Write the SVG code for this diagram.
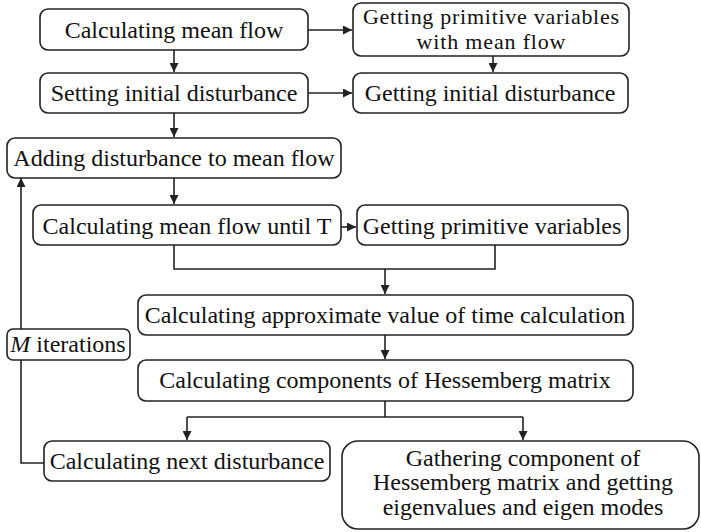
<svg xmlns="http://www.w3.org/2000/svg" width="701" height="532" viewBox="0 0 701 532">
<defs>
<marker id="ah" viewBox="0 0 10 10" refX="10" refY="5" markerWidth="9" markerHeight="9" markerUnits="userSpaceOnUse" orient="auto">
<path d="M0,0 L10,5 L0,10 Z" fill="#222"/>
</marker>
</defs>
<style>
.box{fill:#fff;stroke:#222;stroke-width:1.6}
.c{fill:none;stroke:#222;stroke-width:1.6}
.t{font-family:"Liberation Serif","Times New Roman",serif;font-size:24px;fill:#111;text-anchor:middle}
</style>
<rect width="701" height="532" fill="#fff"/>
<g id="connectors">
<path class="c" d="M308,30 H352" marker-end="url(#ah)"/>
<path class="c" d="M308,93 H352" marker-end="url(#ah)"/>
<path class="c" d="M174,50 V72" marker-end="url(#ah)"/>
<path class="c" d="M493,56 V72" marker-end="url(#ah)"/>
<path class="c" d="M174,113 V137" marker-end="url(#ah)"/>
<path class="c" d="M174,178 V204" marker-end="url(#ah)"/>
<path class="c" d="M341,227 H356" marker-end="url(#ah)"/>
<path class="c" d="M174,245 V269 H495 V245"/>
<path class="c" d="M385,269 V294" marker-end="url(#ah)"/>
<path class="c" d="M385,335 V359" marker-end="url(#ah)"/>
<path class="c" d="M385,401 V417"/>
<path class="c" d="M187,417 H523"/>
<path class="c" d="M187,417 V440" marker-end="url(#ah)"/>
<path class="c" d="M523,417 V440" marker-end="url(#ah)"/>
<path class="c" d="M44,463 H21 V178" marker-end="url(#ah)"/>
</g>
<g id="n1"><rect class="box" x="40" y="9" width="268" height="41" rx="8"/><text class="t" x="174" y="38" font-family="Liberation Serif">Calculating mean flow</text></g>
<g id="n2"><rect class="box" x="353" y="3" width="276" height="53" rx="8"/><text class="t" x="491" y="24" font-family="Liberation Serif" style="font-size:22px" textLength="256" lengthAdjust="spacing">Getting primitive variables</text><text class="t" x="491" y="49" font-family="Liberation Serif" style="font-size:22px" textLength="149" lengthAdjust="spacing">with mean flow</text></g>
<g id="n3"><rect class="box" x="40" y="73" width="268" height="40" rx="8"/><text class="t" x="174" y="101" font-family="Liberation Serif">Setting initial disturbance</text></g>
<g id="n4"><rect class="box" x="353" y="73" width="275" height="40" rx="8"/><text class="t" x="490" y="101" font-family="Liberation Serif">Getting initial disturbance</text></g>
<g id="n5"><rect class="box" x="7" y="138" width="334" height="40" rx="8"/><text class="t" x="174" y="166" font-family="Liberation Serif">Adding disturbance to mean flow</text></g>
<g id="n6"><rect class="box" x="33" y="205" width="308" height="40" rx="8"/><text class="t" x="187" y="234" font-family="Liberation Serif">Calculating mean flow until T</text></g>
<g id="n7"><rect class="box" x="357" y="205" width="271" height="40" rx="8"/><text class="t" x="492" y="234" font-family="Liberation Serif">Getting primitive variables</text></g>
<g id="n8"><rect class="box" x="138" y="295" width="495" height="40" rx="8"/><text class="t" x="385" y="323" font-family="Liberation Serif">Calculating approximate value of time calculation</text></g>
<g id="n9"><rect class="box" x="138" y="360" width="495" height="41" rx="8"/><text class="t" x="385" y="388" font-family="Liberation Serif">Calculating components of Hessemberg matrix</text></g>
<g id="n10"><rect class="box" x="44" y="441" width="286" height="40" rx="8"/><text class="t" x="187" y="469" font-family="Liberation Serif">Calculating next disturbance</text></g>
<g id="n11"><rect class="box" x="342" y="441" width="357" height="88" rx="16"/><text class="t" x="523" y="466" font-family="Liberation Serif">Gathering component of</text><text class="t" x="523" y="490" font-family="Liberation Serif">Hessemberg matrix and getting</text><text class="t" x="523" y="515" font-family="Liberation Serif">eigenvalues and eigen modes</text></g>
<g id="m"><rect class="box" x="7" y="329" width="123" height="31" rx="6"/><text class="t" x="68" y="352" font-family="Liberation Serif"><tspan font-style="italic">M</tspan> iterations</text></g>
</svg>
